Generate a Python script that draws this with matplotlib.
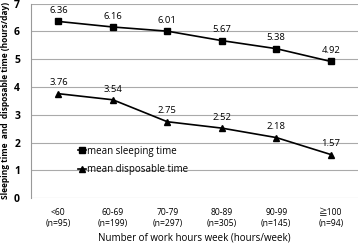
import matplotlib
matplotlib.use("Agg")
import matplotlib.pyplot as plt

categories = ["<60\n(n=95)", "60-69\n(n=199)", "70-79\n(n=297)",
              "80-89\n(n=305)", "90-99\n(n=145)", "\u2267100\n(n=94)"]
sleeping = [6.36, 6.16, 6.01, 5.67, 5.38, 4.92]
disposable = [3.76, 3.54, 2.75, 2.52, 2.18, 1.57]

plt.rcParams["font.family"] = ["Open Sans", "Noto Sans CJK JP", "DejaVu Sans"]

fig = plt.figure(figsize=(3.58, 2.44), dpi=100)
ax = fig.add_axes([0.087, 0.188, 0.913, 0.797])

x = list(range(len(categories)))
ax.plot(x, sleeping, color="black", lw=1.2, marker="s", ms=4.5,
        label="mean sleeping time")
ax.plot(x, disposable, color="black", lw=1.2, marker="^", ms=4.5,
        label="mean disposable time")

for xi, v in zip(x, sleeping):
    ax.annotate(f"{v:.2f}", (xi, v), xytext=(0, 4.5), textcoords="offset points",
                ha="center", va="bottom", fontsize=6.8)
for xi, v in zip(x, disposable):
    ax.annotate(f"{v:.2f}", (xi, v), xytext=(0, 4.5), textcoords="offset points",
                ha="center", va="bottom", fontsize=6.8)

ax.set_xlim(-0.5, len(categories) - 0.5)
ax.set_ylim(0, 7)
ax.set_yticks(range(0, 8))
ax.yaxis.grid(True, color="#aaaaaa", lw=0.8)
ax.set_axisbelow(True)
for s in ["top", "right", "bottom"]:
    ax.spines[s].set_visible(False)
ax.spines["left"].set_color("#999999")
ax.tick_params(axis="both", length=0)
ax.tick_params(axis="y", labelsize=7.5, pad=8)
for t in ax.get_yticklabels():
    t.set_fontweight("bold")
ax.set_xticks(x)
ax.set_xticklabels(categories, fontsize=6.2, linespacing=1.35)
ax.tick_params(axis="x", pad=7)

ax.set_ylabel("Sleeping time  and  disposable time (hours/day)",
              fontsize=6.0, fontweight="bold")
ax.set_xlabel("Number of work hours week (hours/week)", fontsize=7, labelpad=3)
ax.yaxis.set_label_coords(-0.066, 0.5)

ax.legend(loc="upper left", bbox_to_anchor=(0.13, 0.29), frameon=False,
          fontsize=7, handlelength=0.9, handletextpad=0.1,
          labelspacing=0.75, borderaxespad=0)

fig.savefig("out.png", dpi=100)
